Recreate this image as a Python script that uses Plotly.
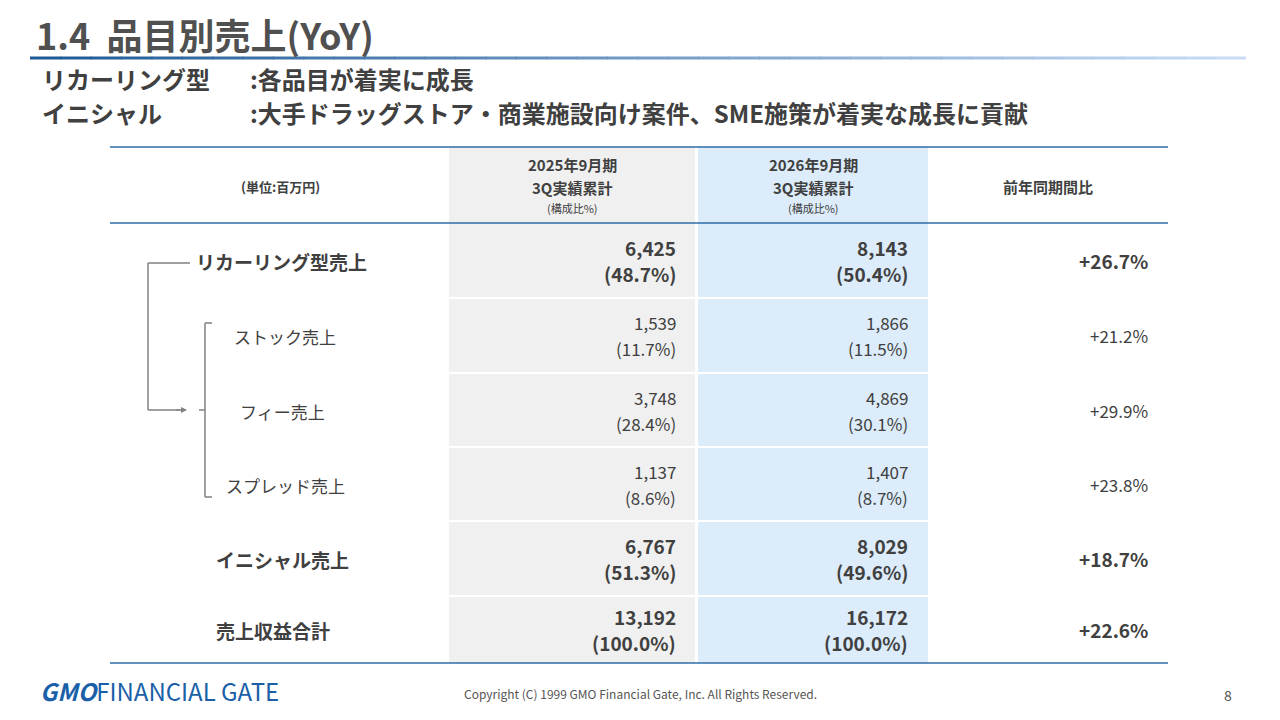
import plotly.graph_objects as go

row_labels = ["リカーリング型売上", "ストック売上", "フィー売上", "スプレッド売上", "イニシャル売上", "売上収益合計"]
row_bold = [True, False, False, False, True, True]
vals_2025 = ["6,425", "1,539", "3,748", "1,137", "6,767", "13,192"]
pct_2025 = ["(48.7%)", "(11.7%)", "(28.4%)", "(8.6%)", "(51.3%)", "(100.0%)"]
vals_2026 = ["8,143", "1,866", "4,869", "1,407", "8,029", "16,172"]
pct_2026 = ["(50.4%)", "(11.5%)", "(30.1%)", "(8.7%)", "(49.6%)", "(100.0%)"]
yoy = ["+26.7%", "+21.2%", "+29.9%", "+23.8%", "+18.7%", "+22.6%"]
col_headers = [["2025年9月期", "3Q実績累計"], ["2026年9月期", "3Q実績累計"]]

FONT = "Noto Sans CJK JP"
TXT = "#404040"
fig = go.Figure(go.Scatter(x=[], y=[]))
shapes, ann = [], []

def text(x, y, s, size, anchor="left", bold=False, color=TXT, yanchor="middle"):
    ann.append(dict(x=x, y=y, text=f"<b>{s}</b>" if bold else s, showarrow=False,
                    xanchor=anchor, yanchor=yanchor, font=dict(family=FONT, size=size, color=color),
                    align={"left": "left", "right": "right", "center": "center"}[anchor]))

def line(x0, y0, x1, y1, color, w):
    shapes.append(dict(type="line", x0=x0, y0=y0, x1=x1, y1=y1, line=dict(color=color, width=w)))

def rect(x0, y0, x1, y1, color):
    shapes.append(dict(type="rect", x0=x0, y0=y0, x1=x1, y1=y1, fillcolor=color, line=dict(width=0), layer="below"))

text(34, 34, "1.4  品目別売上(YoY)", 36, bold=True, color="#505050")
n = 40
for i in range(n):
    t = i / (n - 1)
    r = int(30 + t * (200 - 30)); g = int(90 + t * (220 - 90)); b = int(150 + t * (245 - 150))
    x0 = 30 + i * (1215 / n)
    line(x0, 58, x0 + 1215 / n + 1, 58, f"rgb({r},{g},{b})", 3)
text(40, 78, "リカーリング型", 24, bold=True)
text(248, 78, ":各品目が着実に成長", 24, bold=True)
text(40, 112, "イニシャル", 24, bold=True)
text(248, 112, ":大手ドラッグストア・商業施設向け案件、SME施策が着実な成長に貢献", 24, bold=True)

rect(449, 147, 695, 663, "#f0f0f0")
rect(698, 147, 928, 663, "#dcecfa")
bounds = [223, 298, 373, 447, 521, 596, 663]
for yb in bounds[1:-1]:
    line(449, yb, 928, yb, "white", 2)
line(110, 147, 1168, 147, "#2e6da4", 1.5)
line(110, 223, 1168, 223, "#2e6da4", 1.5)
line(110, 663, 1168, 663, "#2e6da4", 1.5)

text(280, 186, "(単位:百万円)", 13, anchor="center", bold=True)
for cx, h in zip([572, 813], col_headers):
    text(cx, 164, h[0], 15, anchor="center", bold=True)
    text(cx, 187, h[1], 15, anchor="center", bold=True)
    text(cx, 208, "(構成比%)", 11, anchor="center")
text(1048, 186, "前年同期間比", 15, anchor="center", bold=True)

label_x = [194, 232, 238, 224, 214, 214]
for i in range(6):
    yc = (bounds[i] + bounds[i + 1]) / 2
    b = row_bold[i]
    sz = 19 if b else 17
    text(label_x[i], yc + 1, row_labels[i], 19 if b else 17, bold=b)
    text(678, yc - 13, vals_2025[i], sz, anchor="right", bold=b)
    text(678, yc + 13, pct_2025[i], sz, anchor="right", bold=b)
    text(910, yc - 13, vals_2026[i], sz, anchor="right", bold=b)
    text(910, yc + 13, pct_2026[i], sz, anchor="right", bold=b)
    text(1150, yc, yoy[i], sz, anchor="right", bold=b)

gc = "#808080"
line(148, 263, 190, 263, gc, 1.5)
line(148, 263, 148, 410, gc, 1.5)
line(148, 410, 180, 410, gc, 1.5)
ann.append(dict(x=187, y=410, ax=175, ay=410, xref="x", yref="y", axref="x", ayref="y", text="",
                showarrow=True, arrowhead=2, arrowsize=0.8, arrowwidth=1.5, arrowcolor=gc))
line(205, 323, 205, 497, gc, 1.5)
line(205, 323, 212, 323, gc, 1.5)
line(205, 497, 212, 497, gc, 1.5)
line(199, 410, 205, 410, gc, 1.5)

text(38, 690, "<b><i>GMO</i></b>FINANCIAL GATE", 24, color="#1a5fa8")
text(640, 693, "Copyright (C) 1999 GMO Financial Gate, Inc. All Rights Reserved.", 12, anchor="center", color="#555")
text(1228, 695, "8", 14, anchor="center", color="#555")

fig.update_layout(width=1280, height=720, margin=dict(l=0, r=0, t=0, b=0),
                  paper_bgcolor="white", plot_bgcolor="white", showlegend=False,
                  xaxis=dict(range=[8, 1288], visible=False, fixedrange=True),
                  yaxis=dict(range=[728, 8], visible=False, fixedrange=True),
                  shapes=shapes, annotations=ann)
fig.write_html("out.html")
